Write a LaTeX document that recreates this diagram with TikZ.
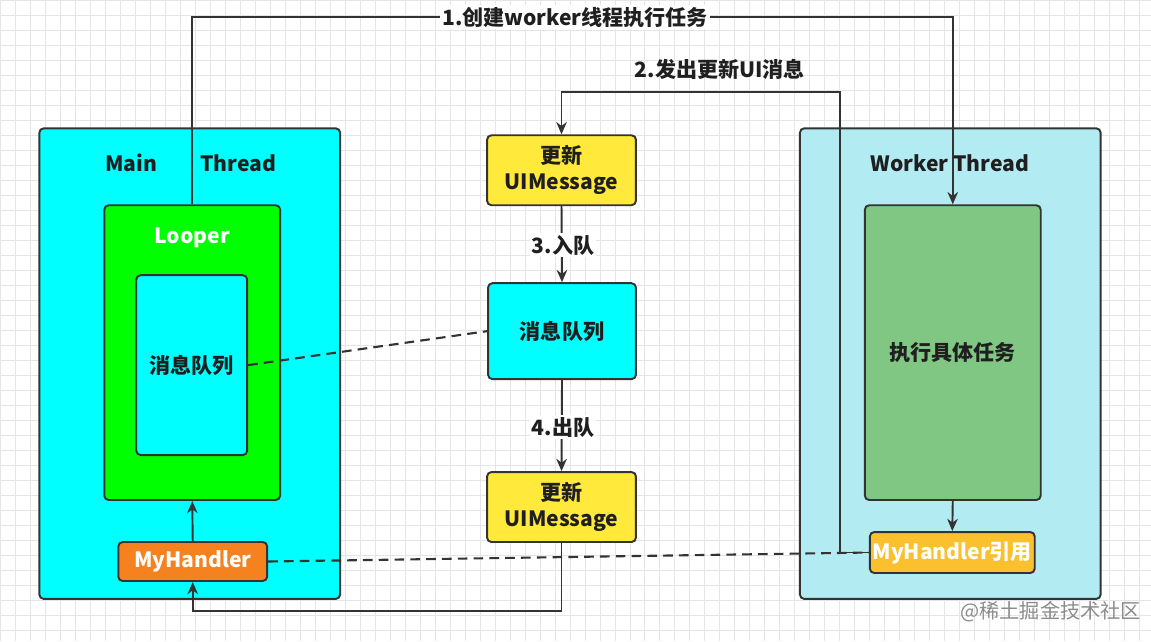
\documentclass[tikz,border=0pt]{standalone}
\usepackage{fontspec}
\setmainfont{Noto Sans CJK SC}
\usetikzlibrary{arrows.meta}
\definecolor{edge}{HTML}{333333}
\definecolor{mainbg}{HTML}{00FFFF}
\definecolor{looperbg}{HTML}{00FF00}
\definecolor{msgbg}{HTML}{FFE93B}
\definecolor{handlerbg}{HTML}{F5821F}
\definecolor{workerbg}{HTML}{B2EBF2}
\definecolor{taskbg}{HTML}{81C784}
\definecolor{refbg}{HTML}{FBC02D}
\begin{document}
\begin{tikzpicture}[x=0.02cm, y=-0.02cm,
  box/.style={draw=edge, line width=1.1pt, rounded corners=2.5pt, inner sep=0pt, align=center,
    font=\fontsize{12}{14.7}\selectfont\bfseries, text=black!88},
  arr/.style={draw=edge, line width=1.1pt, -{Stealth[length=7pt,width=6pt]}},
  link/.style={draw=edge, line width=1.2pt, dash pattern=on 5.5pt off 3.5pt},
  lbl/.style={inner sep=1pt, font=\fontsize{12}{14.7}\selectfont\bfseries, text=black!88},
  ]
  \fill[white] (0,0) rectangle (1151,641);
  \draw[black!10, line width=0.4pt, step=0.3cm] (0,0) grid (1151,641);
  \node[box, fill=mainbg, minimum width=6.02cm, minimum height=9.42cm] (mainthread) at (189.5,363.5) {};
  \node[lbl] (mainlbl) at (131,163) {Main};
  \node[lbl] (threadlbl) at (238,163) {Thread};
  \node[box, fill=looperbg, minimum width=3.52cm, minimum height=5.9cm] (looper) at (192,352.5) {};
  \node[lbl, text=white] (looperlbl) at (192,238) {Looper};
  \node[box, fill=mainbg, minimum width=2.22cm, minimum height=3.6cm] (mainqueue) at (191.5,365) {消息队列};
  \node[box, fill=handlerbg, text=white, minimum width=2.98cm, minimum height=0.78cm] (myhandler) at (192.5,561.5) {MyHandler};
  \node[box, fill=msgbg, minimum width=2.98cm, minimum height=1.4cm] (msgtop) at (561.5,170) {更新\\UIMessage};
  \node[box, fill=mainbg, minimum width=2.96cm, minimum height=1.92cm] (queue) at (562,331) {消息队列};
  \node[box, fill=msgbg, minimum width=2.98cm, minimum height=1.4cm] (msgbot) at (561.5,507) {更新\\UIMessage};
  \node[box, fill=workerbg, minimum width=6.02cm, minimum height=9.42cm] (workerthread) at (950.5,363.5) {};
  \node[lbl] (workerlbl) at (950,163) {Worker Thread};
  \node[box, fill=taskbg, minimum width=3.52cm, minimum height=5.9cm] (task) at (953,352.5) {执行具体任务};
  \node[box, fill=refbg, text=white, minimum width=3.3cm, minimum height=0.82cm] (handlerref) at (952.5,552.5) {MyHandler引用};
  \coordinate (turn1) at (192,17);
  \coordinate (turn2) at (840,92);
  \coordinate (turn5) at (192.5,611);
  \draw[link] (mainqueue.east) -- (queue.west);
  \draw[link] (myhandler.east) -- (handlerref.west);
  \draw[arr] (looper.north) -- (turn1) -| (task.north);
  \draw[arr] (handlerref.west) -| (turn2) -| (msgtop.north);
  \draw[arr] (msgtop.south) -- (queue.north);
  \draw[arr] (queue.south) -- (msgbot.north);
  \draw[arr] (msgbot.south) |- (turn5) -- (myhandler.south);
  \draw[arr] (myhandler.north) -- (looper.south);
  \draw[arr] (task.south) -- (handlerref.north);
  \node[lbl, fill=white] (step1) at (575,17) {1.创建worker线程执行任务};
  \node[lbl] (step2) at (720,69) {2.发出更新UI消息};
  \node[lbl, fill=white] (step3) at (563,245) {3.入队};
  \node[lbl, fill=white] (step4) at (563,427) {4.出队};
  \node[text=black!45, font=\fontsize{11.5}{14}\selectfont] (mark) at (1051,612) {@稀土掘金技术社区};
\end{tikzpicture}
\end{document}
